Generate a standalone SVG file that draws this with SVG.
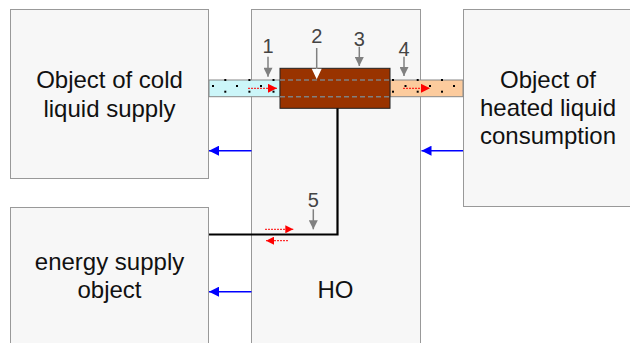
<svg xmlns="http://www.w3.org/2000/svg" width="630" height="343" viewBox="0 0 630 343">
<defs>
<style>
.box{fill:#f7f7f7;stroke:#999;stroke-width:1}
.lbl{font-family:"Liberation Sans",Arial,sans-serif;font-size:24px;fill:#111;text-anchor:middle}
.num{font-family:"Liberation Sans",Arial,sans-serif;font-size:20px;fill:#444;text-anchor:middle}
.blue{stroke:#0000ff;stroke-width:1.5;fill:none}
.red{stroke:#ff0000;stroke-width:1;stroke-dasharray:2,1;fill:none}
.gray{stroke:#808080;stroke-width:1.5;fill:none}
.dot{fill:#000}
</style>
<marker id="bh" viewBox="0 0 10 10" refX="10" refY="5" markerWidth="19" markerHeight="10" markerUnits="userSpaceOnUse" orient="auto">
<path d="M0,0 L10,5 L0,10 Z" fill="#0000ff"/>
</marker>
<marker id="rh" viewBox="0 0 10 10" refX="10" refY="5" markerWidth="11" markerHeight="9" markerUnits="userSpaceOnUse" orient="auto">
<path d="M0,0 L10,5 L0,10 Z" fill="#ff0000"/>
</marker>
<marker id="rs" viewBox="0 0 10 10" refX="10" refY="5" markerWidth="10" markerHeight="8" markerUnits="userSpaceOnUse" orient="auto">
<path d="M0,0 L10,5 L0,10 Z" fill="#ff0000"/>
</marker>
<marker id="gh" viewBox="0 0 10 10" refX="10" refY="5" markerWidth="10" markerHeight="9" markerUnits="userSpaceOnUse" orient="auto">
<path d="M0,0 L10,5 L0,10 Z" fill="#808080"/>
</marker>
</defs>
<rect width="630" height="343" fill="#fff"/>

<g id="cold-supply">
<rect class="box" x="10.5" y="9.5" width="198" height="169"/>
<text class="lbl" x="109.5" y="88">Object of cold</text>
<text class="lbl" x="109.5" y="116.5">liquid supply</text>
</g>

<g id="energy-supply">
<rect class="box" x="10.5" y="207.5" width="198" height="150"/>
<text class="lbl" x="109.5" y="270">energy supply</text>
<text class="lbl" x="109.5" y="298">object</text>
</g>

<g id="ho">
<rect class="box" x="251.5" y="9.5" width="169" height="350"/>
<text class="lbl" x="335.5" y="298">HO</text>
</g>

<g id="heated-consumption">
<rect class="box" x="463.5" y="9.5" width="180" height="197"/>
<text class="lbl" x="548" y="88">Object of</text>
<text class="lbl" x="548" y="116">heated liquid</text>
<text class="lbl" x="548" y="144">consumption</text>
</g>

<g id="cold-pipe">
<rect x="209" y="80" width="71" height="16.7" fill="#ccf6f9" stroke="#888" stroke-width="1"/>
<g class="dot">
<rect x="212" y="85" width="2" height="2"/>
<rect x="224.3" y="79" width="2" height="2"/><rect x="224.3" y="90.7" width="2" height="2"/>
<rect x="236" y="85" width="2" height="2"/>
<rect x="248.4" y="79" width="2" height="2"/><rect x="248.4" y="90.7" width="2" height="2"/>
<rect x="260" y="85" width="2" height="2"/>
<rect x="272.5" y="79" width="2" height="2"/><rect x="272.5" y="90.7" width="2" height="2"/>
</g>
<line class="red" x1="248" y1="88.3" x2="277" y2="88.3" marker-end="url(#rh)"/>
</g>

<g id="hot-pipe">
<rect x="390" y="80" width="73" height="16.7" fill="#fccb9d" stroke="#888" stroke-width="1"/>
<g class="dot">
<rect x="392" y="79" width="2" height="2"/><rect x="392" y="90.7" width="2" height="2"/>
<rect x="404.5" y="85" width="2" height="2"/>
<rect x="416.7" y="79" width="2" height="2"/><rect x="416.7" y="90.7" width="2" height="2"/>
<rect x="429" y="85" width="2" height="2"/>
<rect x="441" y="79" width="2" height="2"/><rect x="441" y="90.7" width="2" height="2"/>
<rect x="453" y="85" width="2" height="2"/>
</g>
<line class="red" x1="403" y1="88.3" x2="430" y2="88.3" marker-end="url(#rh)"/>
</g>

<g id="heater">
<rect x="280" y="68.3" width="110" height="40" fill="#993300" stroke="#222" stroke-width="1"/>
<line x1="280" y1="80" x2="390" y2="80" stroke="#808080" stroke-width="1.5" stroke-dasharray="5,3"/>
<line x1="280" y1="96.7" x2="390" y2="96.7" stroke="#808080" stroke-width="1.5" stroke-dasharray="5,3"/>
</g>

<g id="connectors">
<line class="blue" x1="251.5" y1="150.7" x2="209" y2="150.7" marker-end="url(#bh)"/>
<line class="blue" x1="463" y1="150.7" x2="421.5" y2="150.7" marker-end="url(#bh)"/>
<line class="blue" x1="251.5" y1="291.7" x2="209" y2="291.7" marker-end="url(#bh)"/>
<polyline points="209,234.5 337.5,234.5 337.5,108.3" fill="none" stroke="#000" stroke-width="2.2"/>
<line class="red" x1="265" y1="229.3" x2="293.3" y2="229.3" marker-end="url(#rs)"/>
<line class="red" x1="288" y1="240.7" x2="266" y2="240.7" marker-end="url(#rs)"/>
</g>

<g id="labels">
<text class="num" x="268" y="52.7">1</text>
<line class="gray" x1="268" y1="56.7" x2="268" y2="76.7" marker-end="url(#gh)"/>
<text class="num" x="316.7" y="42.7">2</text>
<line class="gray" x1="316.7" y1="48" x2="316.7" y2="69"/>
<path d="M311.7,68.8 L321.7,68.8 L316.7,79.3 Z" fill="#fff"/>
<text class="num" x="359.3" y="46">3</text>
<line class="gray" x1="359.3" y1="46.7" x2="359.3" y2="66" marker-end="url(#gh)"/>
<text class="num" x="404" y="56">4</text>
<line class="gray" x1="404" y1="56.7" x2="404" y2="76" marker-end="url(#gh)"/>
<text class="num" x="313.3" y="206.7">5</text>
<line class="gray" x1="313.3" y1="209.3" x2="313.3" y2="229.3" marker-end="url(#gh)"/>
</g>
</svg>
